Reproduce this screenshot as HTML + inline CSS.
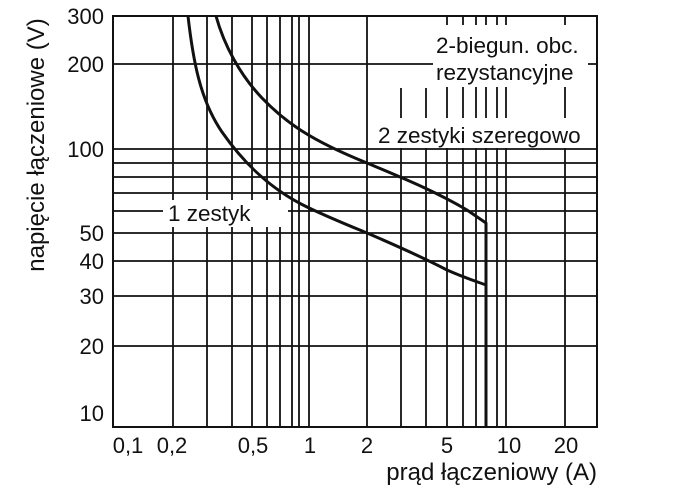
<!DOCTYPE html>
<html><head><meta charset="utf-8"><style>
html,body{margin:0;padding:0;background:#fff;}
svg{display:block;}
text{font-family:"Liberation Sans",sans-serif;fill:#111;}
</style></head><body>
<svg width="681" height="488" viewBox="0 0 681 488">
<g stroke="#111" stroke-width="1.8" fill="none">
<line x1="113" y1="64" x2="597" y2="64"/>
<line x1="113" y1="149" x2="597" y2="149"/>
<line x1="113" y1="163" x2="597" y2="163"/>
<line x1="113" y1="177" x2="597" y2="177"/>
<line x1="113" y1="193" x2="597" y2="193"/>
<line x1="113" y1="211" x2="597" y2="211"/>
<line x1="113" y1="233" x2="597" y2="233"/>
<line x1="113" y1="261" x2="597" y2="261"/>
<line x1="113" y1="296" x2="597" y2="296"/>
<line x1="113" y1="346" x2="597" y2="346"/>
<line x1="173" y1="16" x2="173" y2="427"/>
<line x1="207" y1="16" x2="207" y2="427"/>
<line x1="232" y1="16" x2="232" y2="427"/>
<line x1="252" y1="16" x2="252" y2="427"/>
<line x1="267" y1="16" x2="267" y2="427"/>
<line x1="280" y1="16" x2="280" y2="427"/>
<line x1="292" y1="16" x2="292" y2="427"/>
<line x1="299" y1="16" x2="299" y2="427"/>
<line x1="309" y1="16" x2="309" y2="427"/>
<line x1="367" y1="16" x2="367" y2="427"/>
<line x1="401" y1="88" x2="401" y2="427"/>
<line x1="426" y1="88" x2="426" y2="427"/>
<line x1="447" y1="16" x2="447" y2="427"/>
<line x1="463" y1="16" x2="463" y2="427"/>
<line x1="476" y1="16" x2="476" y2="427"/>
<line x1="486" y1="16" x2="486" y2="427"/>
<line x1="497" y1="16" x2="497" y2="427"/>
<line x1="506" y1="16" x2="506" y2="427"/>
<line x1="565" y1="16" x2="565" y2="427"/>
<rect x="113" y="16" width="484" height="411" stroke-width="2"/>
</g>
<rect x="433" y="25" width="155" height="62" fill="#fff"/>
<rect x="377" y="118" width="211" height="30" fill="#fff"/>
<rect x="163" y="200" width="125" height="27" fill="#fff"/>
<g stroke="#111" stroke-width="3" fill="none" stroke-linejoin="round">
<path d="M188,16 C193,60 200,100 222,132 C245,165 272,190 307,207 C330,218 350,226 367,233 C395,245 420,256 447,270 C465,278 478,282 486,285 L486,427"/>
<path d="M216,16 C224,45 240,75 262,98 C285,122 310,140 367,163 C400,177 433,190 467,210 L486,223 L486,427"/>
</g>
<g font-size="22.5">
<text x="436" y="53">2-biegun. obc.</text>
<text x="436" y="80">rezystancyjne</text>
<text x="378" y="143">2 zestyki szeregowo</text>
<text x="168" y="221">1 zestyk</text>
</g>
<g font-size="22" text-anchor="end">
<text x="104" y="24">300</text>
<text x="104" y="72">200</text>
<text x="104" y="157">100</text>
<text x="104" y="241">50</text>
<text x="104" y="269">40</text>
<text x="104" y="304">30</text>
<text x="104" y="354">20</text>
<text x="104" y="421">10</text>
</g>
<g font-size="22" text-anchor="middle">
<text x="128" y="453">0,1</text>
<text x="172" y="453">0,2</text>
<text x="253" y="453">0,5</text>
<text x="310" y="453">1</text>
<text x="367" y="453">2</text>
<text x="447" y="453">5</text>
<text x="509" y="453">10</text>
<text x="566" y="453">20</text>
</g>
<text x="597" y="480" font-size="24" text-anchor="end">prąd łączeniowy (A)</text>
<text transform="translate(44,145) rotate(-90)" font-size="24" text-anchor="middle">napięcie łączeniowe (V)</text>
</svg>
</body></html>
